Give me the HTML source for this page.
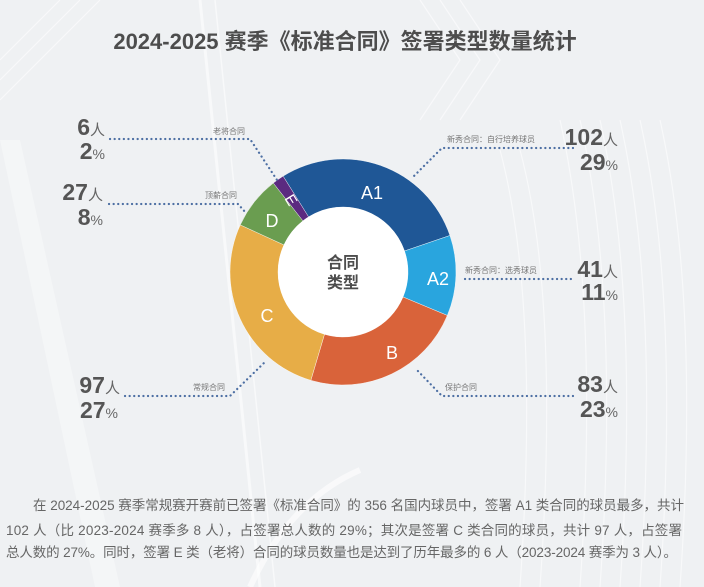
<!DOCTYPE html>
<html><head><meta charset="utf-8"><style>
html,body{margin:0;padding:0;}
body{width:704px;height:587px;overflow:hidden;background:#eff1f3;}
svg{display:block;}
text{font-family:"Liberation Sans","Noto Sans CJK SC",sans-serif;}
</style></head><body>
<svg width="704" height="587" viewBox="0 0 704 587" xmlns="http://www.w3.org/2000/svg">
<rect x="0" y="0" width="704" height="587" fill="#eff1f3"/>
<!-- faint background decorations -->
<g fill="none" stroke="#ffffff" stroke-opacity="0.55" stroke-width="1.2">
  <path d="M0 60 L60 0"/><path d="M0 80 L80 0"/><path d="M0 100 L100 0"/>
  <path d="M200 0 Q230 300 260 587" stroke-width="3"/>
  <path d="M215 0 Q245 300 275 587" stroke-width="1.5"/>
  <path d="M560 120 Q600 300 580 587"/><path d="M580 120 Q620 300 600 587"/>
  <path d="M600 120 Q640 300 620 587"/><path d="M620 120 Q660 300 640 587"/>
  <path d="M640 120 Q680 300 660 587"/><path d="M660 120 Q700 300 680 587"/>
  <path d="M500 150 Q540 300 520 587"/><path d="M520 150 Q560 300 540 587"/>
  <path d="M420 0 L460 60 L420 120"/><path d="M440 0 L480 60 L440 120"/>
  <path d="M460 0 L500 60 L460 120"/>
</g>
<path d="M0 140 L20 140 L120 587 L95 587 Z" fill="#ffffff" fill-opacity="0.35"/>
<path d="M250 587 Q290 500 360 470" fill="none" stroke="#ffffff" stroke-opacity="0.6" stroke-width="6"/>

<!-- title -->
<text x="345" y="49" text-anchor="middle" font-size="22" font-weight="bold" fill="#4d4d4d">2024-2025 赛季《标准合同》签署类型数量统计</text>

<!-- donut -->
<g stroke="#ffffff" stroke-width="0.4">
  <path d="M283.12 176.17 A113 113 0 0 1 449.94 235.48 L404.52 251.00 A65 65 0 0 0 308.56 216.88 Z" fill="#1f5796"/>
  <path d="M449.94 235.48 A113 113 0 0 1 447.32 315.44 L403.01 296.99 A65 65 0 0 0 404.52 251.00 Z" fill="#29a5de"/>
  <path d="M447.32 315.44 A113 113 0 0 1 310.83 380.32 L324.49 334.31 A65 65 0 0 0 403.01 296.99 Z" fill="#d9633a"/>
  <path d="M310.83 380.32 A113 113 0 0 1 240.28 224.90 L283.91 244.91 A65 65 0 0 0 324.49 334.31 Z" fill="#e7ad47"/>
  <path d="M240.28 224.90 A113 113 0 0 1 273.32 183.04 L302.92 220.83 A65 65 0 0 0 283.91 244.91 Z" fill="#6a9d50"/>
  <path d="M273.32 183.04 A113 113 0 0 1 283.12 176.17 L308.56 216.88 A65 65 0 0 0 302.92 220.83 Z" fill="#5b2a80"/>
</g>
<circle cx="343" cy="272" r="65" fill="#ffffff"/>
<g fill="#ffffff" font-size="18" text-anchor="middle">
  <text x="372" y="199">A1</text>
  <text x="438" y="285">A2</text>
  <text x="392" y="359">B</text>
  <text x="267" y="322">C</text>
  <text x="272" y="227">D</text>
  <text x="291" y="205" font-size="15" transform="rotate(58 291 200)">E</text>
</g>
<g fill="#4d4d4d" font-size="16" font-weight="bold" text-anchor="middle">
  <text x="343" y="268">合同</text>
  <text x="343" y="288">类型</text>
</g>

<!-- dotted leader lines -->
<g fill="none" stroke="#4d6fa3" stroke-width="2.2" stroke-linecap="round" stroke-dasharray="0.1 4.5">
  <polyline points="110,139 250,139 277,180"/>
  <polyline points="109,204 238,204 246,213"/>
  <polyline points="125,396 230,396 265,362"/>
  <polyline points="573,148 442,148 412,178"/>
  <polyline points="465,279 573,279"/>
  <polyline points="573,396 442,396 415,368"/>
</g>

<!-- small labels -->
<g fill="#777777" font-size="8">
  <text x="213" y="134">老将合同</text>
  <text x="205" y="198">顶薪合同</text>
  <text x="193" y="390">常规合同</text>
  <text x="447" y="142">新秀合同：自行培养球员</text>
  <text x="465" y="273">新秀合同：选秀球员</text>
  <text x="445" y="390">保护合同</text>
</g>

<!-- big numbers -->
<g fill="#555555" font-size="23" font-weight="bold" text-anchor="end">
  <text x="105" y="135">6<tspan font-size="15" font-weight="normal" fill="#666">人</tspan></text>
  <text x="105" y="159">2<tspan font-size="14" font-weight="normal" fill="#666">%</tspan></text>
  <text x="103" y="200">27<tspan font-size="15" font-weight="normal" fill="#666">人</tspan></text>
  <text x="103" y="225">8<tspan font-size="14" font-weight="normal" fill="#666">%</tspan></text>
  <text x="120" y="393">97<tspan font-size="15" font-weight="normal" fill="#666">人</tspan></text>
  <text x="118" y="418">27<tspan font-size="14" font-weight="normal" fill="#666">%</tspan></text>
  <text x="618" y="145">102<tspan font-size="15" font-weight="normal" fill="#666">人</tspan></text>
  <text x="618" y="170">29<tspan font-size="14" font-weight="normal" fill="#666">%</tspan></text>
  <text x="618" y="277">41<tspan font-size="15" font-weight="normal" fill="#666">人</tspan></text>
  <text x="618" y="300">11<tspan font-size="14" font-weight="normal" fill="#666">%</tspan></text>
  <text x="618" y="392">83<tspan font-size="15" font-weight="normal" fill="#666">人</tspan></text>
  <text x="618" y="417">23<tspan font-size="14" font-weight="normal" fill="#666">%</tspan></text>
</g>

<!-- paragraph -->
<g fill="#666666" font-size="13.5">
  <text x="33" y="510" textLength="651" lengthAdjust="spacing">在 2024-2025 赛季常规赛开赛前已签署《标准合同》的 356 名国内球员中，签署 A1 类合同的球员最多，共计</text>
  <text x="6" y="535" textLength="676" lengthAdjust="spacing">102 人（比 2023-2024 赛季多 8 人），占签署总人数的 29%；其次是签署 C 类合同的球员，共计 97 人，占签署</text>
  <text x="6" y="557" textLength="671" lengthAdjust="spacing">总人数的 27%。同时，签署 E 类（老将）合同的球员数量也是达到了历年最多的 6 人（2023-2024 赛季为 3 人）。</text>
</g>
</svg>
</body></html>
